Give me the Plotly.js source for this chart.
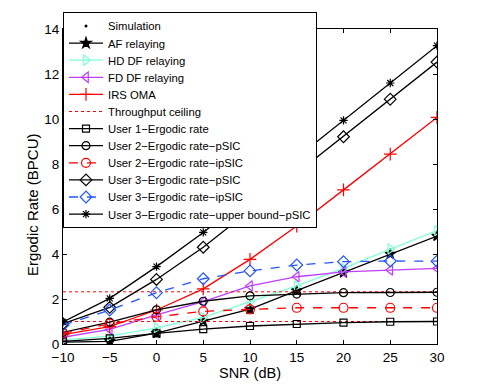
<!DOCTYPE html>
<html><head><meta charset="utf-8">
<script src="https://cdn.plot.ly/plotly-3.0.1.min.js"></script>
<style>html,body{margin:0;padding:0;background:#fff;}#chart{width:482px;height:388px;}</style>
</head><body><div id="chart"></div>
<script>
const snr = [-10, -5, 0, 5, 10, 15, 20, 25, 30];
const afRelaying = [0.08, 0.12, 0.48, 1.02, 1.55, 2.37, 3.17, 4.0, 4.8];
const hdDfRelaying = [0.18, 0.35, 0.72, 1.18, 1.88, 2.58, 3.36, 4.22, 5.04];
const fdDfRelaying = [0.3, 0.65, 1.29, 1.88, 2.58, 2.99, 3.21, 3.29, 3.36];
const irsOma = [0.42, 0.77, 1.51, 2.45, 3.76, 5.24, 6.85, 8.44, 10.07];
const ceilingSnr = [-10, 30, null, -10, 30];
const ceilingRate = [2.32, 2.32, null, 1.0, 1.0];
const user1 = [0.12, 0.25, 0.47, 0.66, 0.8, 0.89, 0.95, 0.99, 1.0];
const user2pSIC = [0.52, 0.97, 1.52, 1.9, 2.14, 2.22, 2.28, 2.29, 2.3];
const user2ipSIC = [0.47, 0.9, 1.21, 1.45, 1.54, 1.61, 1.61, 1.61, 1.61];
const user3pSIC = [0.9, 1.63, 2.87, 4.3, 5.94, 7.58, 9.21, 10.88, 12.53];
const user3ipSIC = [0.84, 1.51, 2.28, 2.9, 3.25, 3.51, 3.66, 3.69, 3.68];
const user3Upper = [0.98, 2.03, 3.44, 4.96, 6.62, 8.28, 9.94, 11.6, 13.26];

const red = '#ff0000', blue = '#2255ff', cyan = '#7fffd4', purple = '#bf3fff', black = '#000000';
function tr(name, y, color, symbol, dash, size) {
  return {x: snr, y: y, name: name, type: 'scatter', mode: 'lines+markers',
    line: {color: color, width: 1.3, dash: dash || 'solid'},
    marker: {symbol: symbol, size: size || 8, color: color, line: {color: color, width: 1.2}}};
}
const data = [
  {x: snr, y: user3Upper, name: 'Simulation', type: 'scatter', mode: 'markers',
   marker: {symbol: 'circle', size: 3, color: black}},
  tr('AF relaying', afRelaying, black, 'star', 'solid', 8),
  tr('HD DF relaying', hdDfRelaying, cyan, 'triangle-right-open', 'solid', 9),
  tr('FD DF relaying', fdDfRelaying, purple, 'triangle-left-open', 'solid', 9),
  tr('IRS OMA', irsOma, red, 'cross-thin-open', 'solid', 9),
  {x: ceilingSnr, y: ceilingRate, name: 'Throughput ceiling', type: 'scatter', mode: 'lines',
   line: {color: red, width: 1, dash: 'dot'}},
  tr('User 1\u2212Ergodic rate', user1, black, 'square-open', 'solid', 7),
  tr('User 2\u2212Ergodic rate\u2212pSIC', user2pSIC, black, 'circle-open', 'solid', 8),
  tr('User 2\u2212Ergodic rate\u2212ipSIC', user2ipSIC, red, 'circle-open', 'dash', 9),
  tr('User 3\u2212Ergodic rate\u2212pSIC', user3pSIC, black, 'diamond-open', 'solid', 9),
  tr('User 3\u2212Ergodic rate\u2212ipSIC', user3ipSIC, blue, 'diamond-open', 'dash', 9),
  tr('User 3\u2212Ergodic rate\u2212upper bound\u2212pSIC', user3Upper, black, 'asterisk-open', 'solid', 7)
];
const font = 'Liberation Sans, Arial, Helvetica, sans-serif';
const axisCommon = {showgrid: false, zeroline: false, showline: true, mirror: 'ticks', linecolor: '#000', linewidth: 1,
  ticks: 'inside', ticklen: 4, tickcolor: '#000', tickfont: {family: font, size: 13.5, color: '#000'}};
const layout = {
  width: 482, height: 388,
  margin: {l: 63, r: 45, t: 29, b: 44},
  paper_bgcolor: '#fff', plot_bgcolor: '#fff',
  font: {family: font, color: '#000'},
  showlegend: true,
  legend: {x: 0, y: 1.054, xanchor: 'left', yanchor: 'top', bgcolor: '#fff', bordercolor: '#000', borderwidth: 1,
    font: {family: font, size: 11.3, color: '#000'}, tracegroupgap: 0, itemwidth: 34, maxheight: 380},
  xaxis: Object.assign({}, axisCommon, {range: [-10, 30], tickmode: 'array', tickvals: [-10, -5, 0, 5, 10, 15, 20, 25, 30],
    ticklabelstandoff: 1, title: {text: 'SNR (dB)', font: {family: font, size: 14.5}, standoff: 1}}),
  yaxis: Object.assign({}, axisCommon, {range: [0, 14], tickmode: 'array', tickvals: [0, 2, 4, 6, 8, 10, 12, 14]}),
  annotations: [{text: 'Ergodic Rate (BPCU)', xref: 'paper', yref: 'paper', x: 0, y: 0.441, xanchor: 'center', yanchor: 'middle',
    xshift: -31, textangle: -90, showarrow: false, font: {family: font, size: 15, color: '#000'}}]
};
Plotly.newPlot('chart', data, layout, {displayModeBar: false, staticPlot: true}).then(function (gd) {
  // tighten legend row spacing to match the reference (Plotly enforces >= 19px rows)
  const rowGap = 17.1;
  const items = gd.querySelectorAll('.legend .traces');
  let first = null, oldLast = 0;
  items.forEach(function (el, i) {
    const m = /translate\(\s*([-\d.]+)[ ,]+([-\d.]+)\s*\)/.exec(el.getAttribute('transform') || '');
    if (!m) return;
    const tx = parseFloat(m[1]), ty = parseFloat(m[2]);
    if (first === null) first = ty;
    oldLast = ty;
    el.setAttribute('transform', 'translate(' + tx + ',' + (first + i * rowGap - 1.5) + ')');
  });
  if (first !== null) {
    const shrink = (oldLast - first) - (items.length - 1) * rowGap + 3;
    gd.querySelectorAll('.legend rect.bg').forEach(function (r) {
      const h = parseFloat(r.getAttribute('height'));
      r.setAttribute('height', h - shrink);
    });
  }
});
</script></body></html>
